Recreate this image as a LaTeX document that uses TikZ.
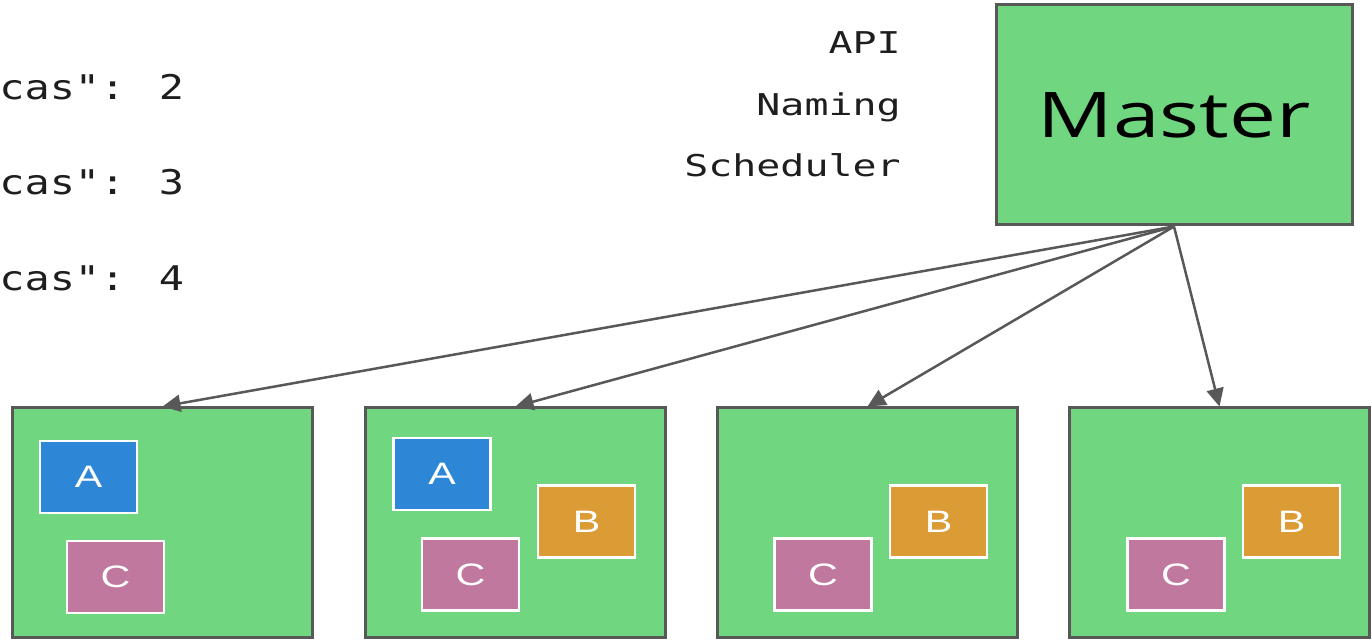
\documentclass[tikz,border=0pt]{standalone}
\usepackage{graphicx}
\usepackage{fontspec}
\setmainfont{Open Sans}
\newfontfamily\codefont{DejaVu Sans Mono}
\newfontfamily\podfont{Liberation Sans}
\usetikzlibrary{arrows.meta}

\definecolor{nodegreen}{RGB}{112,214,128}
\definecolor{edgegray}{RGB}{88,88,88}
\definecolor{podblue}{RGB}{46,134,214}
\definecolor{podorange}{RGB}{219,156,54}
\definecolor{podpink}{RGB}{193,120,158}
\definecolor{inkdark}{RGB}{30,30,30}

% horizontally widened text
\newcommand\hstretch[1]{\scalebox{1.33}[1]{#1}}
\newcommand\cstretch[1]{\scalebox{1.23}[1]{#1}}

\begin{document}
\begin{tikzpicture}[x=0.5pt,y=-0.5pt,
  machine/.style={draw=edgegray, line width=1.5pt, fill=nodegreen,
    minimum width=150pt, minimum height=115pt, inner sep=0pt},
  masterbox/.style={draw=edgegray, line width=1.5pt, fill=nodegreen,
    minimum width=178pt, minimum height=110pt, inner sep=0pt,
    font=\fontsize{31.5}{34}\selectfont, text=black},
  pod/.style={draw=white, line width=1.25pt,
    minimum width=48.5pt, minimum height=36pt, inner sep=0pt,
    text=white, font=\podfont\fontsize{15.5}{18}\selectfont},
  poda/.style={pod, fill=podblue},
  podb/.style={pod, fill=podorange},
  podc/.style={pod, fill=podpink},
  spec/.style={anchor=base west, inner sep=0pt, text=inkdark,
    font=\codefont\fontsize{17}{20}\selectfont},
  role/.style={anchor=base east, inner sep=0pt, text=inkdark,
    font=\codefont\fontsize{15}{18}\selectfont},
  link/.style={draw=edgegray, line width=1.25pt,
    -{Triangle[length=9pt,width=8.5pt]}}
]
\useasboundingbox (0,0) rectangle (1372,640);

% replica counts
\node[spec] (rep2) at (-1,100) {\cstretch{cas": 2}};
\node[spec] (rep3) at (-1,195) {\cstretch{cas": 3}};
\node[spec] (rep4) at (-1,291) {\cstretch{cas": 4}};

% master roles
\node[role] (api)   at (901,54)  {\hstretch{API}};
\node[role] (naming) at (901,116) {\hstretch{Naming}};
\node[role] (sched) at (901,177) {\hstretch{Scheduler}};

% master
\node[masterbox] (master) at (1174,115) {\hstretch{Master}};

% worker machines
\node[machine] (m1) at (162.5,523) {};
\node[machine] (m2) at (515.5,523) {};
\node[machine] (m3) at (867.5,523) {};
\node[machine] (m4) at (1219.5,523) {};

% pods
\node[poda] (a1) at (88.5,477)   {\hstretch{A}};
\node[podc] (c1) at (115.5,577)  {\hstretch{C}};
\node[poda] (a2) at (442,474)    {\hstretch{A}};
\node[podb] (b2) at (586.5,521.5) {\hstretch{B}};
\node[podc] (c2) at (470.5,574.5) {\hstretch{C}};
\node[podb] (b3) at (938.5,521.5) {\hstretch{B}};
\node[podc] (c3) at (823,574.5)  {\hstretch{C}};
\node[podb] (b4) at (1291.5,521.5) {\hstretch{B}};
\node[podc] (c4) at (1176,574.5) {\hstretch{C}};

% scheduling arrows
\draw[link] (master.south) -- (m1.north);
\draw[link] (master.south) -- (m2.north);
\draw[link] (master.south) -- (m3.north);
\draw[link] (master.south) -- (m4.north);
\end{tikzpicture}
\end{document}
